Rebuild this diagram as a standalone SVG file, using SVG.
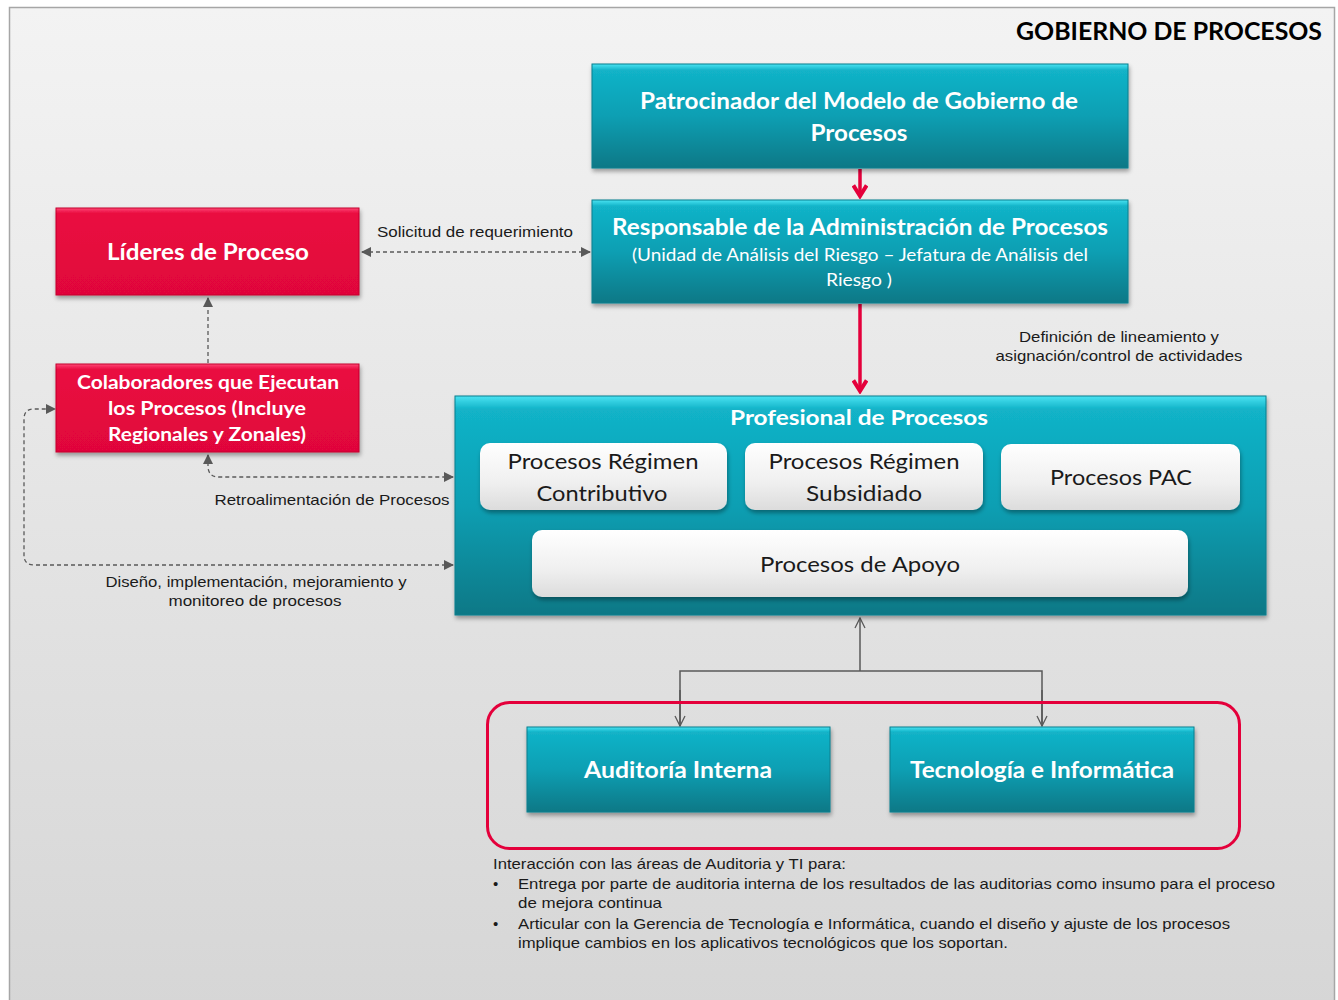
<svg xmlns="http://www.w3.org/2000/svg" width="1338" height="1000" viewBox="0 0 1338 1000">
<defs>
<linearGradient id="bg" x1="0" y1="0" x2="0" y2="1"><stop offset="0" stop-color="#f3f3f3"/><stop offset="1" stop-color="#d6d6d6"/></linearGradient>
<linearGradient id="teal" x1="0" y1="0" x2="0" y2="1"><stop offset="0" stop-color="#4ae3f2"/><stop offset="0.06" stop-color="#12b3c8"/><stop offset="0.5" stop-color="#0a9fb3"/><stop offset="1" stop-color="#097886"/></linearGradient>
<linearGradient id="red" x1="0" y1="0" x2="0" y2="1"><stop offset="0" stop-color="#ff4a76"/><stop offset="0.06" stop-color="#ea0a40"/><stop offset="1" stop-color="#e0063b"/></linearGradient>
<linearGradient id="white" x1="0" y1="0" x2="0" y2="1"><stop offset="0" stop-color="#ffffff"/><stop offset="0.6" stop-color="#efefef"/><stop offset="1" stop-color="#dcdcdc"/></linearGradient>
<filter id="sh" x="-5%" y="-5%" width="115%" height="125%"><feDropShadow dx="1" dy="3" stdDeviation="2" flood-color="#000" flood-opacity="0.35"/></filter>
<marker id="tri" viewBox="0 0 10 10" refX="9" refY="5" markerWidth="10" markerHeight="10" markerUnits="userSpaceOnUse" orient="auto-start-reverse"><path d="M0,0 L10,5 L0,10 z" fill="#595959"/></marker>
<marker id="redhead" viewBox="0 0 12 12" refX="10" refY="6" markerWidth="16" markerHeight="16" markerUnits="userSpaceOnUse" orient="auto"><path d="M2,1 L10,6 L2,11" fill="none" stroke="#e4003b" stroke-width="3"/></marker>
<marker id="open" viewBox="0 0 12 12" refX="11" refY="6" markerWidth="12" markerHeight="12" markerUnits="userSpaceOnUse" orient="auto"><path d="M1,1 L11,6 L1,11" fill="none" stroke="#595959" stroke-width="1.3"/></marker>
</defs>
<style>
.tb{fill:url(#teal);filter:url(#sh);stroke:#0b7f8e;stroke-width:1}
.rb{fill:url(#red);filter:url(#sh);stroke:#c4002f;stroke-width:1}
.wb{fill:url(#white);filter:url(#sh)}
.h{font-family:Lato,"Open Sans",sans-serif;font-weight:bold;fill:#fff;text-anchor:middle}
.n{font-family:Lato,"Open Sans",sans-serif;fill:#fff;text-anchor:middle}
.w{font-family:Lato,"Open Sans",sans-serif;fill:#1a1a1a;text-anchor:middle;font-size:22px}
.l{font-family:"Liberation Sans",Arial,sans-serif;fill:#1a1a1a;font-size:15px}
.c{text-anchor:middle}
.dash{fill:none;stroke:#595959;stroke-width:1.3;stroke-dasharray:4 3}
.gl{fill:none;stroke:#595959;stroke-width:1.5}
.rl{fill:none;stroke:#e4003b;stroke-width:3.5}
</style>
<rect x="9.5" y="7.5" width="1325" height="1000" fill="url(#bg)" stroke="#a6a6a6" stroke-width="1.5"/>
<text x="1322" y="40" font-family="Lato,'Open Sans',sans-serif" font-weight="bold" font-size="24" fill="#000" text-anchor="end" textLength="306" lengthAdjust="spacingAndGlyphs">GOBIERNO DE PROCESOS</text>

<g id="connectors">
<path class="rl" d="M860,169 L860,196" marker-end="url(#redhead)"/>
<path class="rl" d="M860,304 L860,391" marker-end="url(#redhead)"/>
<path class="dash" d="M362,252 L590,252" marker-start="url(#tri)" marker-end="url(#tri)"/>
<path class="dash" d="M208,363 L208,298" marker-end="url(#tri)"/>
<path class="dash" d="M208,455 L208,466 Q208,477 219,477 L453,477" marker-start="url(#tri)" marker-end="url(#tri)"/>
<path class="dash" d="M453,565 L34,565 Q24,565 24,555 L24,419 Q24,409 34,409 L55,409" marker-start="url(#tri)" marker-end="url(#tri)"/>
<path class="gl" d="M860,671 L860,618" marker-end="url(#open)"/>
<path class="gl" d="M680,726 L680,671 L1042,671 L1042,726" fill="none"/>
<path class="gl" d="M680,690 L680,726" marker-end="url(#open)"/>
<path class="gl" d="M1042,690 L1042,726" marker-end="url(#open)"/>
</g>

<text class="l c" x="475" y="237" textLength="196" lengthAdjust="spacingAndGlyphs">Solicitud de requerimiento</text>
<text class="l c" x="1119" y="342" textLength="200" lengthAdjust="spacingAndGlyphs">Definición de lineamiento y</text>
<text class="l c" x="1119" y="361" textLength="247" lengthAdjust="spacingAndGlyphs">asignación/control de actividades</text>
<text class="l c" x="332" y="505" textLength="235" lengthAdjust="spacingAndGlyphs">Retroalimentación de Procesos</text>
<text class="l c" x="256" y="587" textLength="301" lengthAdjust="spacingAndGlyphs">Diseño, implementación, mejoramiento y</text>
<text class="l c" x="255" y="606" textLength="173" lengthAdjust="spacingAndGlyphs">monitoreo de procesos</text>

<g id="patrocinador">
<rect class="tb" x="592" y="64" width="536" height="104"/>
<text class="h" x="859" y="109" font-size="22" textLength="438" lengthAdjust="spacingAndGlyphs">Patrocinador del Modelo de Gobierno de</text>
<text class="h" x="859" y="141" font-size="22" textLength="97" lengthAdjust="spacingAndGlyphs">Procesos</text>
</g>
<g id="responsable">
<rect class="tb" x="592" y="200" width="536" height="103"/>
<text class="h" x="860" y="235" font-size="23" textLength="496" lengthAdjust="spacingAndGlyphs">Responsable de la Administración de Procesos</text>
<text class="n" x="860" y="261" font-size="17" textLength="456" lengthAdjust="spacingAndGlyphs">(Unidad de Análisis del Riesgo – Jefatura de Análisis del</text>
<text class="n" x="859" y="286" font-size="17" textLength="66" lengthAdjust="spacingAndGlyphs">Riesgo )</text>
</g>
<g id="lideres">
<rect class="rb" x="56" y="208" width="303" height="87"/>
<text class="h" x="208" y="260" font-size="22" textLength="202" lengthAdjust="spacingAndGlyphs">Líderes de Proceso</text>
</g>
<g id="colaboradores">
<rect class="rb" x="56" y="364" width="303" height="88"/>
<text class="h" x="208" y="389" font-size="19" textLength="262" lengthAdjust="spacingAndGlyphs">Colaboradores que Ejecutan</text>
<text class="h" x="207" y="415" font-size="19" textLength="198" lengthAdjust="spacingAndGlyphs">los Procesos  (Incluye</text>
<text class="h" x="207" y="441" font-size="19" textLength="198" lengthAdjust="spacingAndGlyphs">Regionales y Zonales)</text>
</g>
<g id="profesional">
<rect class="tb" x="455" y="396" width="811" height="219"/>
<text class="h" x="859" y="425" font-size="21" textLength="258" lengthAdjust="spacingAndGlyphs">Profesional de Procesos</text>
</g>
<g id="contributivo">
<rect class="wb" x="480" y="443" width="247" height="67" rx="10"/>
<text class="w" x="603" y="469" textLength="191" lengthAdjust="spacingAndGlyphs">Procesos Régimen</text>
<text class="w" x="602" y="501" textLength="131" lengthAdjust="spacingAndGlyphs">Contributivo</text>
</g>
<g id="subsidiado">
<rect class="wb" x="745" y="443" width="238" height="67" rx="10"/>
<text class="w" x="864" y="469" textLength="191" lengthAdjust="spacingAndGlyphs">Procesos Régimen</text>
<text class="w" x="864" y="501" textLength="116" lengthAdjust="spacingAndGlyphs">Subsidiado</text>
</g>
<g id="pac">
<rect class="wb" x="1001" y="444" width="239" height="66" rx="10"/>
<text class="w" x="1121" y="485" textLength="142" lengthAdjust="spacingAndGlyphs">Procesos PAC</text>
</g>
<g id="apoyo">
<rect class="wb" x="532" y="530" width="656" height="67" rx="10"/>
<text class="w" x="860" y="572" textLength="200" lengthAdjust="spacingAndGlyphs">Procesos de Apoyo</text>
</g>
<g id="grupo-auditoria-ti">
<rect x="487.5" y="702.5" width="752" height="146" rx="22" fill="none" stroke="#e4003b" stroke-width="3"/>
</g>
<g id="auditoria">
<rect class="tb" x="527" y="727" width="303" height="85"/>
<text class="h" x="678" y="778" font-size="22" textLength="188" lengthAdjust="spacingAndGlyphs">Auditoría Interna</text>
</g>
<g id="tecnologia">
<rect class="tb" x="890" y="727" width="304" height="85"/>
<text class="h" x="1042" y="778" font-size="22" textLength="264" lengthAdjust="spacingAndGlyphs">Tecnología e Informática</text>
</g>

<g id="nota">
<text class="l" x="493" y="869" textLength="353" lengthAdjust="spacingAndGlyphs">Interacción con las áreas de Auditoria y TI para:</text>
<text class="l" x="493" y="889">•</text>
<text class="l" x="518" y="889" textLength="757" lengthAdjust="spacingAndGlyphs">Entrega por parte de auditoria interna de los resultados de las auditorias como insumo para el proceso</text>
<text class="l" x="518" y="908" textLength="144" lengthAdjust="spacingAndGlyphs">de mejora continua</text>
<text class="l" x="493" y="929">•</text>
<text class="l" x="518" y="929" textLength="712" lengthAdjust="spacingAndGlyphs">Articular con la Gerencia de Tecnología e Informática, cuando el diseño y ajuste de los procesos</text>
<text class="l" x="518" y="948" textLength="490" lengthAdjust="spacingAndGlyphs">implique cambios en los aplicativos tecnológicos que los soportan.</text>
</g>
</svg>
